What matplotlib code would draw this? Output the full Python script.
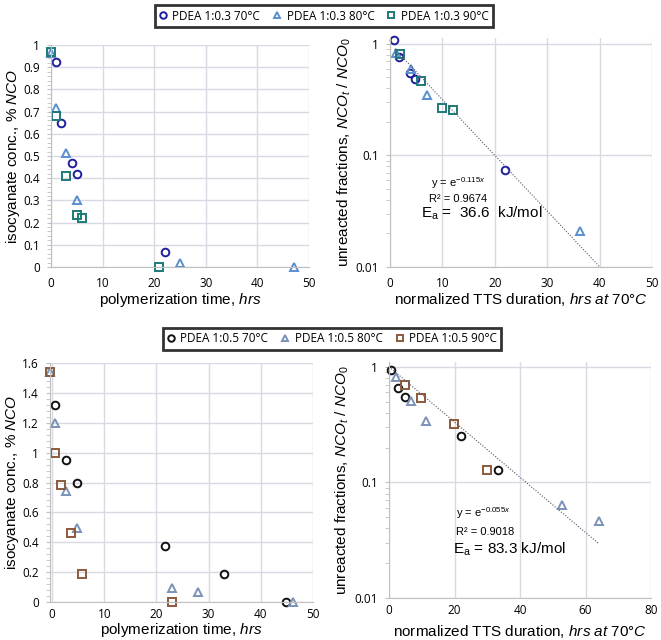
import matplotlib
matplotlib.use("Agg")
import matplotlib.pyplot as plt
from matplotlib.ticker import MultipleLocator, LogLocator, NullFormatter
import numpy as np

# ---- data: PDEA 1:0.3 ----
t03_70 = [1, 2, 4, 5, 22]
c03_70 = [0.925, 0.647, 0.47, 0.418, 0.066]
t03_80 = [0, 1, 3, 5, 25, 47]
c03_80 = [0.965, 0.716, 0.512, 0.304, 0.016, 0.0]
t03_90 = [0, 1, 3, 5, 6, 21]
c03_90 = [0.967, 0.68, 0.409, 0.234, 0.222, 0.0]

tts03_70 = [0.85, 1.8, 3.8, 4.85, 22.0]
f03_70 = [1.09, 0.76, 0.545, 0.48, 0.0745]
tts03_80 = [1.2, 4.1, 7.0, 36.2]
f03_80 = [0.836, 0.59, 0.348, 0.021]
tts03_90 = [1.9, 5.9, 10.0, 12.1]
f03_90 = [0.81, 0.469, 0.268, 0.254]
k03 = 0.115

# ---- data: PDEA 1:0.5 ----
t05_70 = [0.6, 2.6, 4.7, 21.7, 33.0, 44.9]
c05_70 = [1.32, 0.949, 0.794, 0.374, 0.188, 0.0]
t05_80 = [-0.4, 0.6, 2.6, 4.7, 22.9, 27.9, 46.1]
c05_80 = [1.54, 1.20, 0.74, 0.495, 0.092, 0.067, 0.0]
t05_90 = [-0.4, 0.6, 1.7, 3.7, 5.65, 22.9]
c05_90 = [1.54, 1.0, 0.78, 0.463, 0.19, 0.0]

tts05_70 = [0.7, 2.9, 4.9, 22.1, 33.2]
f05_70 = [0.93, 0.659, 0.551, 0.254, 0.127]
tts05_80 = [2.0, 6.7, 11.3, 52.7, 64.2]
f05_80 = [0.82, 0.505, 0.34, 0.0633, 0.046]
tts05_90 = [5.0, 9.9, 19.9, 30.0]
f05_90 = [0.70, 0.54, 0.318, 0.127]
k05 = 0.055

labels03 = ['PDEA 1:0.3 70°C', 'PDEA 1:0.3 80°C', 'PDEA 1:0.3 90°C']
labels05 = ['PDEA 1:0.5 70°C', 'PDEA 1:0.5 80°C', 'PDEA 1:0.5 90°C']

plt.rcParams['font.family'] = ['Liberation Sans', 'DejaVu Sans']
plt.rcParams['mathtext.fontset'] = 'custom'
plt.rcParams['mathtext.rm'] = 'Liberation Sans'
plt.rcParams['mathtext.it'] = 'Liberation Sans:italic'

W, H = 661, 640
fig = plt.figure(figsize=(W / 100, H / 100), dpi=100)


def add_ax(l, r, t, b):
    return fig.add_axes([l / W, 1 - b / H, (r - l) / W, (b - t) / H])


grid_c = '#d9d9e3'


def style(ax, xpad, ylx, xly):
    ax.grid(True, which='major', color=grid_c, lw=1.0)
    ax.set_axisbelow(True)
    for s in ['top', 'right']:
        ax.spines[s].set_visible(False)
    for s in ['left', 'bottom']:
        ax.spines[s].set_color('#c0c0c0')
    ax.tick_params(which='both', axis='y', length=3, color='#c0c0c0', direction='out', pad=5)
    ax.tick_params(axis='x', length=0, pad=xpad)
    for lab in ax.get_xticklabels() + ax.get_yticklabels():
        lab.set_fontfamily('Open Sans')
        lab.set_fontsize(8.5)
    ax.yaxis.set_label_coords(ylx, 0.5)
    ax.xaxis.set_label_coords(0.5, xly)
    ax.xaxis.label.set_va('center')
    ax.yaxis.label.set_va('center')


mk = dict(ls='none', mfc='none', mew=1.4, ms=5.5, clip_on=False)

c70a, c80a, c90a = '#1f1f9e', '#5b8fd0', '#1d7a78'
c70b, c80b, c90b = '#111111', '#7b93b8', '#8c5a3c'
fit_c = '#555566'

# ---- top-left ----
ax1 = add_ax(51, 309, 45, 267)
ax1.plot(t03_70, c03_70, marker='o', color=c70a, **mk)
ax1.plot(t03_80, c03_80, marker='^', color=c80a, **mk)
ax1.plot(t03_90, c03_90, marker='s', color=c90a, **mk)
ax1.set_xlim(0, 50)
ax1.set_ylim(0, 1)
ax1.xaxis.set_major_locator(MultipleLocator(10))
ax1.set_yticks(np.arange(0, 1.01, 0.1))
ax1.set_yticklabels(['0'] + [f'{v:.1f}' for v in np.arange(0.1, 0.95, 0.1)] + ['1'])
ax1.yaxis.set_minor_locator(MultipleLocator(0.02))
ax1.set_xlabel(r'polymerization time, $\mathit{hrs}$', fontsize=11)
ax1.set_ylabel(r'isocyanate conc., % $\mathit{NCO}$', fontsize=11)
style(ax1, 7, (13 - 51) / 258, (267 - 300) / 222)

# ---- top-right ----
ax2 = add_ax(390, 652, 38, 267)
ax2.plot(tts03_70, f03_70, marker='o', color=c70a, **mk)
ax2.plot(tts03_80, f03_80, marker='^', color=c80a, **mk)
ax2.plot(tts03_90, f03_90, marker='s', color=c90a, **mk)
xf = np.array([0.9, 40.3])
ax2.plot(xf, np.exp(-k03 * xf), ls=(0, (1, 1.5)), color=fit_c, lw=0.8)
ax2.set_yscale('log')
ax2.set_xlim(0, 50)
ax2.set_ylim(0.01, 1.13)
ax2.xaxis.set_major_locator(MultipleLocator(10))
ax2.set_yticks([0.01, 0.1, 1])
ax2.set_yticklabels(['0.01', '0.1', '1'])
ax2.yaxis.set_minor_locator(LogLocator(subs=np.arange(2, 10)))
ax2.yaxis.set_minor_formatter(NullFormatter())
ax2.set_xlabel(r'normalized TTS duration, $\mathit{hrs\ at\ 70°C}$', fontsize=11)
ax2.set_ylabel(r'unreacted fractions, $\mathit{NCO_t}$ / $\mathit{NCO_0}$', fontsize=11)
style(ax2, 7, (344 - 390) / 262, (267 - 300) / 229)
ax2.text(458 / W, 1 - 183 / H, r'y = e$^{-0.115x}$', transform=fig.transFigure,
         ha='center', va='center', fontsize=8)
ax2.text(458 / W, 1 - 199 / H, 'R² = 0.9674', transform=fig.transFigure,
         ha='center', va='center', fontsize=8)
ax2.text(482 / W, 1 - 213 / H, r'E$_\mathrm{a}$ =  36.6  kJ/mol', transform=fig.transFigure,
         ha='center', va='center', fontsize=11)

# ---- bottom-left ----
ax3 = add_ax(50, 313, 363, 602)
ax3.plot(t05_70, c05_70, marker='o', color=c70b, **mk)
ax3.plot(t05_80, c05_80, marker='^', color=c80b, **mk)
ax3.plot(t05_90, c05_90, marker='s', color=c90b, **mk)
ax3.set_xlim(-0.4, 50)
ax3.set_ylim(0, 1.6)
ax3.xaxis.set_major_locator(MultipleLocator(10))
ax3.set_yticks(np.arange(0, 1.61, 0.2))
ax3.set_yticklabels(['0', '0.2', '0.4', '0.6', '0.8', '1', '1.2', '1.4', '1.6'])
ax3.yaxis.set_minor_locator(MultipleLocator(0.04))
ax3.set_xlabel(r'polymerization time, $\mathit{hrs}$', fontsize=11)
ax3.set_ylabel(r'isocyanate conc., % $\mathit{NCO}$', fontsize=11)
style(ax3, 4, (12 - 50) / 263, (602 - 630) / 239)

# ---- bottom-right ----
ax4 = add_ax(389, 651, 362, 598)
ax4.plot(tts05_70, f05_70, marker='o', color=c70b, **mk)
ax4.plot(tts05_80, f05_80, marker='^', color=c80b, **mk)
ax4.plot(tts05_90, f05_90, marker='s', color=c90b, **mk)
xf = np.array([0.0, 64.0])
ax4.plot(xf, np.exp(-k05 * xf), ls=(0, (1, 1.5)), color=fit_c, lw=0.8)
ax4.set_yscale('log')
ax4.set_xlim(0, 80)
ax4.set_ylim(0.01, 1.1)
ax4.xaxis.set_major_locator(MultipleLocator(20))
ax4.set_yticks([0.01, 0.1, 1])
ax4.set_yticklabels(['0.01', '0.1', '1'])
ax4.yaxis.set_minor_locator(LogLocator(subs=np.arange(2, 10)))
ax4.yaxis.set_minor_formatter(NullFormatter())
ax4.set_xlabel(r'normalized TTS duration, $\mathit{hrs\ at\ 70°C}$', fontsize=11)
ax4.set_ylabel(r'unreacted fractions, $\mathit{NCO_t}$ / $\mathit{NCO_0}$', fontsize=11)
style(ax4, 4, (342 - 389) / 262, (598 - 631) / 236)
ax4.text(483 / W, 1 - 513 / H, r'y = e$^{-0.055x}$', transform=fig.transFigure,
         ha='center', va='center', fontsize=8)
ax4.text(485 / W, 1 - 532 / H, 'R² = 0.9018', transform=fig.transFigure,
         ha='center', va='center', fontsize=8)
ax4.text(510 / W, 1 - 549 / H, r'E$_\mathrm{a}$ = 83.3 kJ/mol', transform=fig.transFigure,
         ha='center', va='center', fontsize=11)


# ---- legends ----
def legend(lines, labels, cx, cy):
    leg = fig.legend(lines, labels, loc='center', bbox_to_anchor=(cx / W, 1 - cy / H),
                     ncol=3, frameon=True, fancybox=False,
                     prop=dict(family='Open Sans', size=8.5), handlelength=0.6,
                     handletextpad=0.5, columnspacing=1.15, borderpad=0.35,
                     borderaxespad=0, markerscale=0.85)
    leg.get_frame().set_edgecolor('black')
    leg.get_frame().set_linewidth(2)
    return leg


legend(ax1.lines[:3], labels03, 324, 16)
legend(ax3.lines[:3], labels05, 332, 339)

fig.savefig('out.png', dpi=100)
